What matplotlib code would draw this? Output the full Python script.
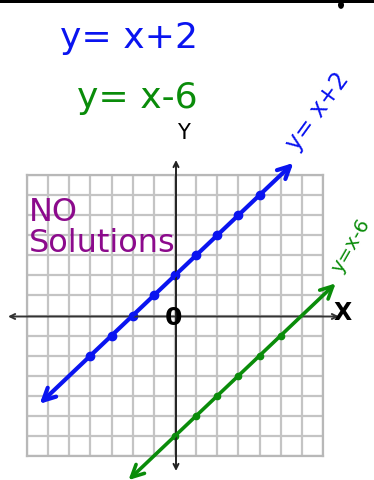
import matplotlib
matplotlib.use("Agg")
import matplotlib.pyplot as plt
import numpy as np

# ---- data ----
grid_range = [-7, 7]
slopes = [1, 1]
intercepts = [2, -6]
line_x_start = [-6.4, -2.2]
line_x_end = [5.6, 7.6]
blue_dot_x = [-4, -3, -2, -1, 0, 1, 2, 3, 4]
green_dot_x = [0, 1, 2, 3, 4, 5]
equation_labels = ["y= x+2", "y= x-6"]
line_labels = ["y= x+2", "y=x-6"]
colors = ["#0a14f0", "#0a8c0a"]
note_text = "NO\nSolutions"
note_color = "#8c0a8c"

W, H = 374, 480
fig = plt.figure(figsize=(W / 100, H / 100), dpi=100)
fig.patch.set_facecolor("white")

# grid axes placed over the graph-paper region
gl, gr, gt, gb = 27, 323, 175, 456
ax = fig.add_axes([gl / W, (H - gb) / H, (gr - gl) / W, (gb - gt) / H])
ax.set_xlim(grid_range)
ax.set_ylim(grid_range)
ticks = np.arange(grid_range[0], grid_range[1] + 1)
ax.set_xticks(ticks)
ax.set_yticks(ticks)
ax.tick_params(length=0, labelbottom=False, labelleft=False)
ax.grid(True, color="#c4c4c4", lw=1.6)
for s in ax.spines.values():
    s.set_color("#b8b8b8")
    s.set_linewidth(1.6)
ax.set_axisbelow(True)

def px(x, y):
    """figure pixel (from top-left) -> data coords of ax"""
    sx = (gr - gl) / (grid_range[1] - grid_range[0])
    sy = (gb - gt) / (grid_range[1] - grid_range[0])
    x0 = (gl + gr) / 2
    y0 = (gt + gb) / 2
    return (x - x0) / sx, (y0 - y) / sy

# coordinate axes with arrows
ax.annotate("", xy=px(8, 316.5), xytext=px(339, 316.5),
            arrowprops=dict(arrowstyle="<->", color="#333333", lw=1.4,
                            mutation_scale=9, shrinkA=0, shrinkB=0),
            annotation_clip=False)
ax.annotate("", xy=px(176, 160), xytext=px(176, 471),
            arrowprops=dict(arrowstyle="<->", color="#222222", lw=1.4,
                            mutation_scale=9, shrinkA=0, shrinkB=0),
            annotation_clip=False)

# the two lines
for m, b, xs, xe, c, lw in zip(slopes, intercepts, line_x_start, line_x_end,
                               colors, [3.0, 2.6]):
    ax.annotate("", xy=(xs, m * xs + b), xytext=(xe, m * xe + b),
                arrowprops=dict(arrowstyle="<->", color=c, lw=lw,
                                mutation_scale=22, shrinkA=0, shrinkB=0),
                annotation_clip=False)

bx = np.array(blue_dot_x)
ax.plot(bx, slopes[0] * bx + intercepts[0], "o", color=colors[0], ms=6,
        clip_on=False)
gx = np.array(green_dot_x)
ax.plot(gx, slopes[1] * gx + intercepts[1], "o", color=colors[1], ms=4.5,
        clip_on=False)

hand = "DejaVu Sans"

def ftext(x, y, s, **kw):
    fig.text(x / W, 1 - y / H, s, family=hand, **kw)

# equations at top
ftext(129, 38, equation_labels[0], color=colors[0], fontsize=26,
      ha="center", va="center")
ftext(137, 98, equation_labels[1], color=colors[1], fontsize=26,
      ha="center", va="center")

# axis labels
ftext(183, 133, "Y", color="black", fontsize=15, ha="center", va="center")
ftext(343, 313, "X", color="black", fontsize=17, ha="center", va="center",
      fontweight="bold")
ftext(174, 318, "0", color="black", fontsize=18, ha="center", va="center",
      fontweight="bold")

# note
ftext(29, 228, note_text, color=note_color, fontsize=23, ha="left",
      va="center", linespacing=1.0)

# labels along lines
ftext(318, 112, line_labels[0], color=colors[0], fontsize=17, ha="center",
      va="center", rotation=54)
ftext(351, 246, line_labels[1], color=colors[1], fontsize=14, ha="center",
      va="center", rotation=60)

# top bar and dot
fig.add_artist(plt.Rectangle((0, 1 - 3 / H), 1, 3 / H, transform=fig.transFigure,
                             color="black", lw=0))
fig.add_artist(matplotlib.patches.Circle((341 / W, 1 - 5 / H), 3 / W,
                                         transform=fig.transFigure,
                                         color="black", lw=0))

fig.savefig("out.png", dpi=100, facecolor="white")
